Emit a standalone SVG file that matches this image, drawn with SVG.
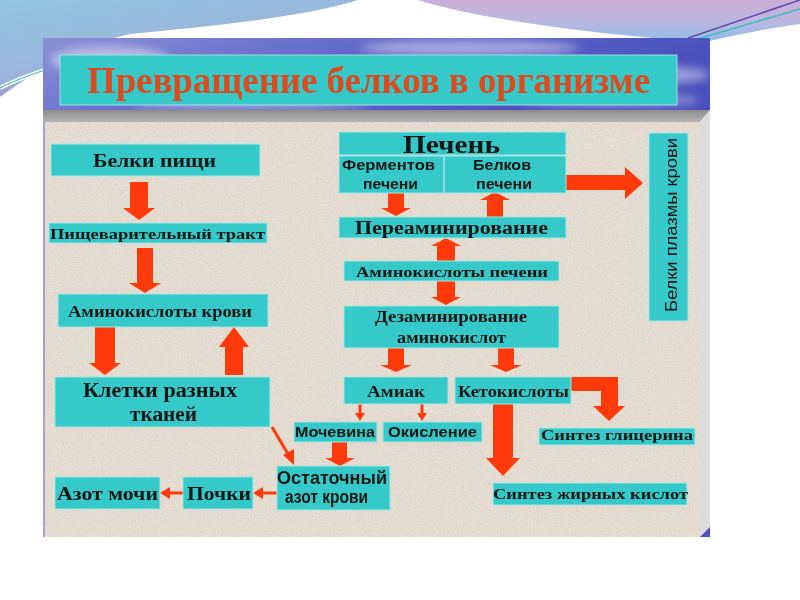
<svg xmlns="http://www.w3.org/2000/svg" width="800" height="600" viewBox="0 0 800 600">
<defs>
<linearGradient id="bandL" x1="0" y1="0" x2="0.6" y2="1">
<stop offset="0" stop-color="#92c6de"/><stop offset="0.6" stop-color="#9ab4dc"/><stop offset="1" stop-color="#a27cc6"/>
</linearGradient>
<linearGradient id="bandR" x1="0" y1="0" x2="0" y2="1">
<stop offset="0" stop-color="#cdaed8"/><stop offset="0.55" stop-color="#b8b8e0"/><stop offset="1" stop-color="#8ebfe8"/>
</linearGradient>
<linearGradient id="sky" x1="0" y1="0" x2="1" y2="0.3">
<stop offset="0" stop-color="#8a90d6"/><stop offset="0.5" stop-color="#5f66c8"/><stop offset="1" stop-color="#4a50bc"/>
</linearGradient>
<linearGradient id="bevel" x1="0" y1="0" x2="0" y2="1">
<stop offset="0" stop-color="#8c8c8c"/><stop offset="1" stop-color="#b4b4b4"/>
</linearGradient>
<filter id="blur" x="-50%" y="-50%" width="200%" height="200%"><feGaussianBlur stdDeviation="5"/></filter>
<filter id="noise" x="0" y="0" width="100%" height="100%">
<feTurbulence type="fractalNoise" baseFrequency="0.85" numOctaves="2" seed="4"/>
<feColorMatrix type="matrix" values="0 0 0 0 0.45  0 0 0 0 0.40  0 0 0 0 0.34  1.8 0 0 0 -0.85"/>
</filter>
<clipPath id="skyclip"><rect x="43" y="38" width="667" height="72"/></clipPath>
<style>
.box{fill:#35c9c9;stroke:#a6e6e4;stroke-width:1}
.arr{fill:#ff3a0a}
.ln{stroke:#ff3a0a;stroke-width:3;fill:none}
.s{font-family:"Liberation Serif","DejaVu Serif",serif;font-weight:bold;fill:#121616;text-anchor:middle}
.a{font-family:"Liberation Sans","DejaVu Sans",sans-serif;font-weight:bold;fill:#121616;text-anchor:middle}
.an{font-family:"Liberation Sans","DejaVu Sans",sans-serif;fill:#121616;text-anchor:middle}
</style>
</defs>

<rect width="800" height="600" fill="#ffffff"/>
<!-- top decoration -->
<path d="M0,0 L358,0 C300,18 210,26 130,34 C85,44 45,64 0,97 Z" fill="url(#bandL)"/>
<path d="M0,88 C15,80 30,75 45,70" stroke="#ffffff" stroke-width="4" fill="none"/>
<path d="M0,88 C15,80 30,75 45,70" stroke="#3fbcbc" stroke-width="1.2" fill="none"/>
<path d="M418,0 L800,0 L800,24 C770,28 740,34 705,42 C610,36 480,20 418,0 Z" fill="url(#bandR)"/>
<path d="M688,38 L800,0" stroke="#6a48a8" stroke-width="1.5"/>
<path d="M694,40 L800,9" stroke="#3fbcbc" stroke-width="1.5"/>

<!-- slide frame -->
<rect x="43" y="38" width="667" height="72" fill="url(#sky)"/>
<g clip-path="url(#skyclip)" opacity="0.45">
<ellipse cx="470" cy="48" rx="110" ry="8" fill="#ffffff" filter="url(#blur)"/>
<ellipse cx="640" cy="75" rx="70" ry="10" fill="#ffffff" filter="url(#blur)"/>
<ellipse cx="610" cy="100" rx="90" ry="6" fill="#ffffff" filter="url(#blur)"/>
<ellipse cx="110" cy="60" rx="60" ry="14" fill="#ffffff" filter="url(#blur)"/>
<ellipse cx="250" cy="104" rx="120" ry="5" fill="#ffffff" filter="url(#blur)"/>
</g>
<polygon points="43,110 710,110 700,122 43,122" fill="url(#bevel)"/>
<rect x="43" y="122" width="657" height="415" fill="#e6ded2"/>
<rect x="43" y="122" width="657" height="415" filter="url(#noise)" opacity="0.45"/>
<polygon points="700,122 710,110 710,537 700,537" fill="#dcdcdc"/>
<polygon points="700,537 710,527 710,537" fill="#5050c0"/>
<rect x="43" y="122" width="2" height="415" fill="#a8a0d0"/>

<!-- title -->
<g id="title">
<rect x="60" y="55" width="617" height="50" fill="#35c9c9" stroke="#9ee0e0" stroke-width="1"/>
<text x="368.5" y="93" font-family="Liberation Serif, DejaVu Serif, serif" font-weight="bold" font-size="38" fill="#dc4a1e" text-anchor="middle" textLength="563" lengthAdjust="spacingAndGlyphs">Превращение белков в организме</text>
</g>

<!-- connectors -->
<g id="connectors">
<polygon class="arr" points="130,182 148,182 148,208 155,208 139,220 123,208 130,208"/>
<polygon class="arr" points="137,248 153,248 153,283 161,283 145,293 129,283 137,283"/>
<polygon class="arr" points="95,327 115,327 115,363 121,363 105,375 89,363 95,363"/>
<polygon class="arr" points="225,375 243,375 243,347 249,347 234,327 219,347 225,347"/>
<path class="ln" d="M272,427 L288,454" stroke-width="4"/>
<polygon class="arr" points="283,455 294,449 294,465"/>
<path class="ln" d="M183,493 L168,493"/>
<polygon class="arr" points="170,487 170,499 160,493"/>
<path class="ln" d="M277,493 L261,493"/>
<polygon class="arr" points="263,487 263,499 253,493"/>
<polygon class="arr" points="332,442 347,442 347,458 355,458 340,466 325,458 332,458"/>
<path class="ln" d="M360,404 L360,414" stroke-width="2"/>
<polygon class="arr" points="355,413 365,413 360,421"/>
<path class="ln" d="M422,404 L422,414" stroke-width="2"/>
<polygon class="arr" points="417,413 427,413 422,421"/>
<polygon class="arr" points="388,348 404,348 404,365 412,365 396,372 380,365 388,365"/>
<polygon class="arr" points="498,348 514,348 514,365 522,365 506,372 490,365 498,365"/>
<polygon class="arr" points="493,404 513,404 513,458 520,458 503,476 486,458 493,458"/>
<polygon class="arr" points="571,377 618,377 618,406 625,406 609,421 593,406 601,406 601,391 571,391"/>
<polygon class="arr" points="388,193 404,193 404,208 411,208 396,216 381,208 388,208"/>
<polygon class="arr" points="487,217 503,217 503,200 510,200 495,192 480,200 487,200"/>
<polygon class="arr" points="437,261 455,261 455,246 461,246 446,238 431,246 437,246"/>
<polygon class="arr" points="437,281 455,281 455,297 461,297 446,305 431,297 437,297"/>
<polygon class="arr" points="566,175 625,175 625,167 643,183 625,199 625,190 566,190"/>
</g>

<!-- nodes -->
<g id="n-belki-pishchi"><rect class="box" x="51" y="144" width="209" height="32"/>
<text class="s" x="154.5" y="167" font-size="19" textLength="123" lengthAdjust="spacingAndGlyphs">Белки пищи</text></g>
<g id="n-trakt"><rect class="box" x="49" y="223" width="218" height="20"/>
<text class="s" x="157.5" y="239" font-size="15.5" textLength="215" lengthAdjust="spacingAndGlyphs">Пищеварительный тракт</text></g>
<g id="n-amino-krovi"><rect class="box" x="58" y="294" width="210" height="33"/>
<text class="s" x="160" y="317" font-size="16" textLength="184" lengthAdjust="spacingAndGlyphs">Аминокислоты крови</text></g>
<g id="n-kletki"><rect class="box" x="55" y="377" width="215" height="50"/>
<text class="s" x="160" y="397" font-size="20" textLength="154" lengthAdjust="spacingAndGlyphs">Клетки разных</text>
<text class="s" x="163.5" y="421" font-size="20" textLength="67" lengthAdjust="spacingAndGlyphs">тканей</text></g>
<g id="n-azot-mochi"><rect class="box" x="55" y="477" width="105" height="32"/>
<text class="s" x="107.5" y="500" font-size="19" textLength="101" lengthAdjust="spacingAndGlyphs">Азот мочи</text></g>
<g id="n-pochki"><rect class="box" x="183" y="477" width="70" height="32"/>
<text class="s" x="219" y="500" font-size="19" textLength="64" lengthAdjust="spacingAndGlyphs">Почки</text></g>
<g id="n-ostatochny"><rect class="box" x="277" y="466" width="113" height="44"/>
<text class="a" x="332" y="484" font-size="18" font-weight="600" textLength="110" lengthAdjust="spacingAndGlyphs">Остаточный</text>
<text class="a" x="326.5" y="503" font-size="18" font-weight="600" textLength="83" lengthAdjust="spacingAndGlyphs">азот крови</text></g>
<g id="n-mochevina"><rect class="box" x="294" y="422" width="83" height="20"/>
<text class="a" x="335" y="437" font-size="14.5" textLength="80" lengthAdjust="spacingAndGlyphs">Мочевина</text></g>
<g id="n-okislenie"><rect class="box" x="383" y="422" width="99" height="20"/>
<text class="a" x="432.5" y="437" font-size="14.5" textLength="89" lengthAdjust="spacingAndGlyphs">Окисление</text></g>
<g id="n-amiak"><rect class="box" x="344" y="377" width="104" height="27"/>
<text class="s" x="396" y="397" font-size="16" textLength="58" lengthAdjust="spacingAndGlyphs">Амиак</text></g>
<g id="n-ketokisloty"><rect class="box" x="455" y="377" width="116" height="27"/>
<text class="s" x="513.5" y="397" font-size="16" textLength="111" lengthAdjust="spacingAndGlyphs">Кетокислоты</text></g>
<g id="n-glicerin"><rect class="box" x="539" y="428" width="156" height="17"/>
<text class="s" x="617" y="440" font-size="15.5" textLength="152" lengthAdjust="spacingAndGlyphs">Синтез глицерина</text></g>
<g id="n-zhirnye"><rect class="box" x="493" y="483" width="194" height="22"/>
<text class="s" x="590.5" y="499" font-size="15.5" textLength="195" lengthAdjust="spacingAndGlyphs">Синтез жирных кислот</text></g>
<g id="n-pechen">
<rect class="box" x="339" y="132" width="227" height="23"/>
<rect class="box" x="339" y="156" width="227" height="37"/>
<line x1="444" y1="156" x2="444" y2="193" stroke="#a6e6e4" stroke-width="1.5"/>
<text class="s" x="451.5" y="153" font-size="25" textLength="97" lengthAdjust="spacingAndGlyphs">Печень</text>
<text class="a" x="388.5" y="170" font-size="14" textLength="93" lengthAdjust="spacingAndGlyphs">Ферментов</text>
<text class="a" x="390.5" y="189" font-size="14" textLength="55" lengthAdjust="spacingAndGlyphs">печени</text>
<text class="a" x="502" y="170" font-size="14" textLength="58" lengthAdjust="spacingAndGlyphs">Белков</text>
<text class="a" x="504" y="189" font-size="14" textLength="56" lengthAdjust="spacingAndGlyphs">печени</text>
</g>
<g id="n-pereaminirovanie"><rect class="box" x="339" y="217" width="227" height="21"/>
<text class="s" x="451.5" y="234" font-size="18" textLength="193" lengthAdjust="spacingAndGlyphs">Переаминирование</text></g>
<g id="n-amino-pecheni"><rect class="box" x="344" y="261" width="215" height="20"/>
<text class="s" x="452" y="277" font-size="15" textLength="192" lengthAdjust="spacingAndGlyphs">Аминокислоты печени</text></g>
<g id="n-dezaminirovanie"><rect class="box" x="344" y="306" width="215" height="42"/>
<text class="s" x="451" y="322" font-size="16" textLength="152" lengthAdjust="spacingAndGlyphs">Дезаминирование</text>
<text class="s" x="451.5" y="343" font-size="16" textLength="109" lengthAdjust="spacingAndGlyphs">аминокислот</text></g>
<g id="n-plazma"><rect class="box" x="649" y="133" width="39" height="188"/>
<text class="an" transform="translate(677,225) rotate(-90)" x="0" y="0" font-size="17" textLength="174" lengthAdjust="spacingAndGlyphs">Белки плазмы крови</text></g>
</svg>
